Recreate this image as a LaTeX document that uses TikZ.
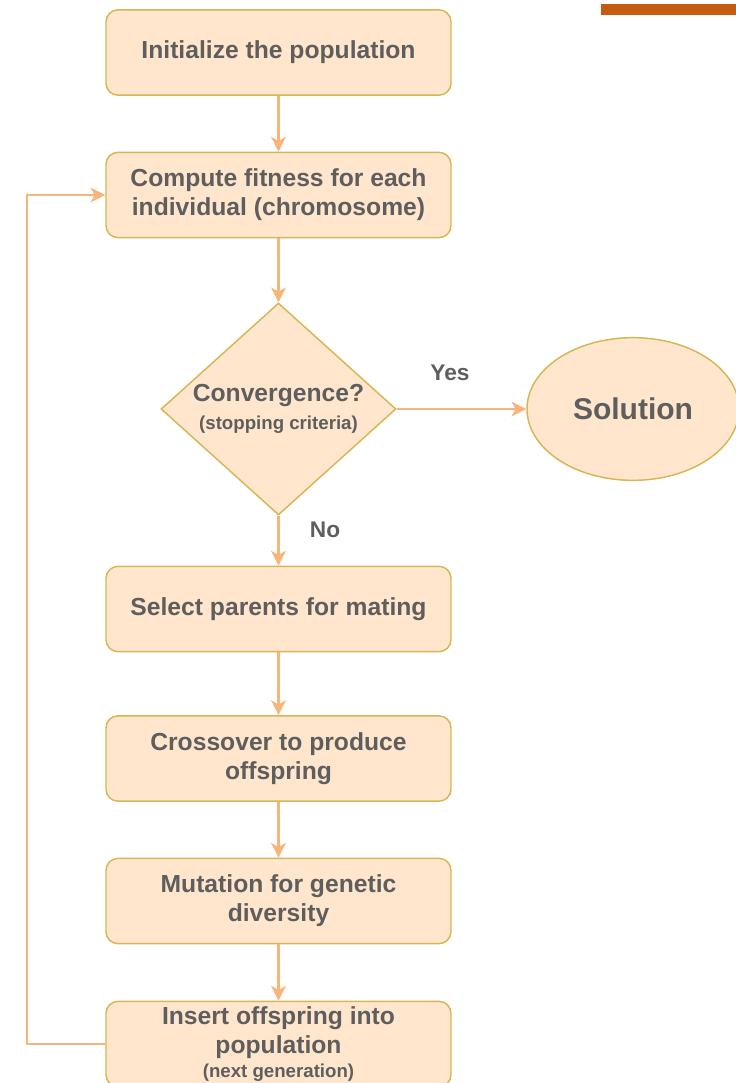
\documentclass[tikz,border=0pt]{standalone}
\usepackage{fontspec}
\setmainfont{Liberation Sans}
\usetikzlibrary{shapes.geometric,arrows.meta}
\definecolor{boxfill}{HTML}{FFE6CC}
\definecolor{boxdraw}{HTML}{D6B656}
\definecolor{linecol}{HTML}{F9B47A}
\definecolor{txtcol}{HTML}{5E5E5E}
\definecolor{barcol}{HTML}{C55A11}
\tikzset{
  stepbox/.style={draw=boxdraw, fill=boxfill, line width=1.1pt, rounded corners=9pt,
    minimum width=258.75pt, minimum height=64pt, inner sep=0pt, align=center,
    text=txtcol, font=\bfseries\fontsize{18.5}{21.75}\selectfont},
  decbox/.style={draw=boxdraw, fill=boxfill, line width=1.1pt, shape=diamond, aspect=1.2,
    minimum width=176.25pt, minimum height=159pt, inner sep=0pt, align=center,
    text=txtcol, font=\bfseries\fontsize{18.5}{22}\selectfont},
  endbox/.style={draw=boxdraw, fill=boxfill, line width=1.1pt, shape=ellipse,
    minimum width=159pt, minimum height=107pt, inner sep=0pt,
    text=txtcol, font=\bfseries\fontsize{22.5}{26}\selectfont},
  conn/.style={draw=linecol, line width=1.8pt,
    -{Stealth[length=11pt,width=11pt,inset=3pt,fill=linecol]}},
  lbl/.style={text=txtcol, font=\bfseries\fontsize{17}{20}\selectfont, inner sep=0pt}
}
\begin{document}
\begin{tikzpicture}[x=0.75pt,y=-0.75pt]
\useasboundingbox (0,0) rectangle (736,1083);
\fill[barcol] (601,4) rectangle (736,15);
\node[stepbox] (b1) at (278.5,52.5) {Initialize the population};
\node[stepbox] (b2) at (278.5,195) {Compute fitness for each\\individual (chromosome)};
\node[decbox] (d) at (278.5,409) {Convergence?\\[-1pt]{\bfseries\fontsize{14}{16}\selectfont (stopping criteria)}};
\node[endbox] (sol) at (633,409) {Solution};
\node[stepbox] (b3) at (278.5,609) {Select parents for mating};
\node[stepbox] (b4) at (278.5,758.5) {Crossover to produce\\offspring};
\node[stepbox] (b5) at (278.5,901) {Mutation for genetic\\diversity};
\node[stepbox] (b6) at (278.5,1044) {Insert offspring into\\population\\[-4pt]{\bfseries\fontsize{14}{16}\selectfont (next generation)}};
\node[lbl] (yes) at (450,373) {Yes};
\node[lbl] (no) at (325,530) {No};
\coordinate (lx) at (27,600);
\draw[conn] (b1) -- (b2);
\draw[conn] (b2) -- (d);
\draw[conn] (d) -- (sol);
\draw[conn] (d) -- (b3);
\draw[conn] (b3) -- (b4);
\draw[conn] (b4) -- (b5);
\draw[conn] (b5) -- (b6);
\draw[conn] (b6.west) -- (b6.west -| lx) |- (b2.west);
\end{tikzpicture}
\end{document}
